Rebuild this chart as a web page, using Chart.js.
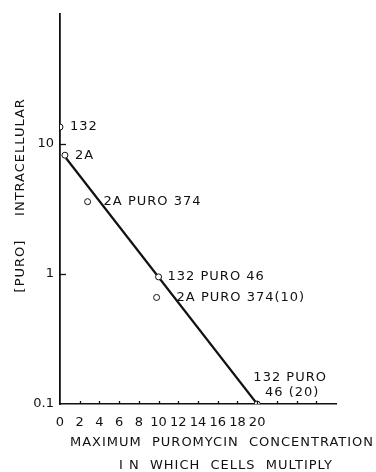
<!DOCTYPE html>
<html>
<head>
<meta charset="utf-8">
<script src="https://cdn.jsdelivr.net/npm/chart.js@4.4.1/dist/chart.umd.min.js"></script>
<style>
html,body{margin:0;padding:0;background:#fff;}
#wrap{width:376px;height:472px;}
</style>
</head>
<body>
<div id="wrap"><canvas id="c" width="376" height="472"></canvas></div>
<script>
// ---- data ----
const strains = ['132', '2A', '2A PURO 374', '132 PURO 46', '2A PURO 374(10)', '132 PURO\n46 (20)'];
const maxPuromycin = [0, 0.5, 2.8, 10, 9.8, 20];
const intracellularPuro = [13.5, 8.2, 3.6, 0.95, 0.66, 0.1];
const fitLineX = [0.6, 20];
const fitLineY = [7.8, 0.1];
const xTickValues = [0, 2, 4, 6, 8, 10, 12, 14, 16, 18, 20];
const xMinorTicks = [22, 24, 26];
const yTickValues = [0.1, 1, 10, 100];
const xTitleLines = ['MAXIMUM  PUROMYCIN  CONCENTRATION', 'I N  WHICH  CELLS  MULTIPLY'];
const yTitleParts = ['[PURO]', 'INTRACELLULAR'];

// ---- styles (label offsets in px relative to point) ----
const labelOffsets = [[10, 0], [10, 0], [16, 0], [9, 0], [20, 0], [33, -26]];
const FONT = '"DejaVu Sans", "Liberation Sans", sans-serif';

const pointData = maxPuromycin.map((x, i) => ({x, y: intracellularPuro[i]}));
const lineData = fitLineX.map((x, i) => ({x, y: fitLineY[i]}));

const decor = {
  id: 'decor',
  afterDraw(chart) {
    const ctx = chart.ctx;
    const xs = chart.scales.x, ys = chart.scales.y;
    const area = chart.chartArea;
    ctx.save();
    ctx.strokeStyle = '#111';
    ctx.lineWidth = 1.3;
    // inward ticks on y axis
    [1, 10].forEach(v => {
      const py = Math.round(ys.getPixelForValue(v)) + 0.5;
      ctx.beginPath(); ctx.moveTo(area.left, py); ctx.lineTo(area.left + 6, py); ctx.stroke();
    });
    // inward ticks on x axis
    xTickValues.concat(xMinorTicks).forEach(v => {
      if (v === 0) return;
      const px = Math.round(xs.getPixelForValue(v)) + 0.5;
      ctx.beginPath(); ctx.moveTo(px, area.bottom); ctx.lineTo(px, area.bottom - 3); ctx.stroke();
    });
    // point labels
    ctx.fillStyle = '#111';
    ctx.font = '13px ' + FONT;
    ctx.letterSpacing = '1px';
    ctx.textBaseline = 'middle';
    const meta = chart.getDatasetMeta(0);
    meta.data.forEach((el, i) => {
      const lines = strains[i].split('\n');
      const [dx, dy] = labelOffsets[i];
      if (lines.length > 1) {
        ctx.textAlign = 'center';
        lines.forEach((t, k) => ctx.fillText(t, el.x + dx + (k ? 2 : 0), el.y + dy + k * 15));
      } else {
        ctx.textAlign = 'left';
        ctx.fillText(lines[0], el.x + dx, el.y + dy);
      }
    });
    // axis titles
    ctx.font = '13px ' + FONT;
    ctx.textAlign = 'center';
    ctx.letterSpacing = '1px';
    ctx.fillText(xTitleLines[0], 222, 443);
    ctx.fillText(xTitleLines[1], 226, 466);
    ctx.save();
    ctx.translate(21, 0);
    ctx.rotate(-Math.PI / 2);
    ctx.fillText(yTitleParts[0], -266, 0);
    ctx.fillText(yTitleParts[1], -157, 0);
    ctx.restore();
    ctx.restore();
  }
};

new Chart(document.getElementById('c'), {
  type: 'scatter',
  data: {
    datasets: [
      {
        data: pointData,
        showLine: false,
        pointRadius: 3,
        pointBorderWidth: 1,
        pointBorderColor: '#111',
        pointBackgroundColor: '#fff',
        order: 0
      },
      {
        data: lineData,
        showLine: true,
        borderColor: '#111',
        borderWidth: 2.2,
        pointRadius: 0,
        order: 1
      }
    ]
  },
  options: {
    responsive: false,
    devicePixelRatio: 1,
    animation: false,
    events: [],
    layout: {padding: {top: 14, right: 40, left: 0, bottom: 0}},
    plugins: {legend: {display: false}, tooltip: {enabled: false}},
    scales: {
      x: {
        type: 'linear',
        min: 0,
        max: 28,
        afterFit(s) { s.height = 68; },
        afterBuildTicks(s) { s.ticks = xTickValues.map(v => ({value: v})); },
        grid: {display: true, drawOnChartArea: false, drawTicks: false},
        border: {display: true, color: '#111', width: 1.5},
        ticks: {
          padding: 11,
          color: '#111',
          maxRotation: 0,
          autoSkip: false,
          font: {family: FONT, size: 13},
          callback: v => String(v)
        }
      },
      y: {
        type: 'logarithmic',
        min: 0.1,
        max: 100,
        afterFit(s) { s.width = 60; },
        afterBuildTicks(s) { s.ticks = yTickValues.map(v => ({value: v})); },
        grid: {display: true, drawOnChartArea: false, drawTicks: false},
        border: {display: true, color: '#111', width: 1.8},
        ticks: {
          padding: 6,
          color: '#111',
          autoSkip: false,
          font: {family: FONT, size: 13},
          callback: v => (v === 100 ? '' : String(v))
        }
      }
    }
  },
  plugins: [decor]
});
</script>
</body>
</html>
